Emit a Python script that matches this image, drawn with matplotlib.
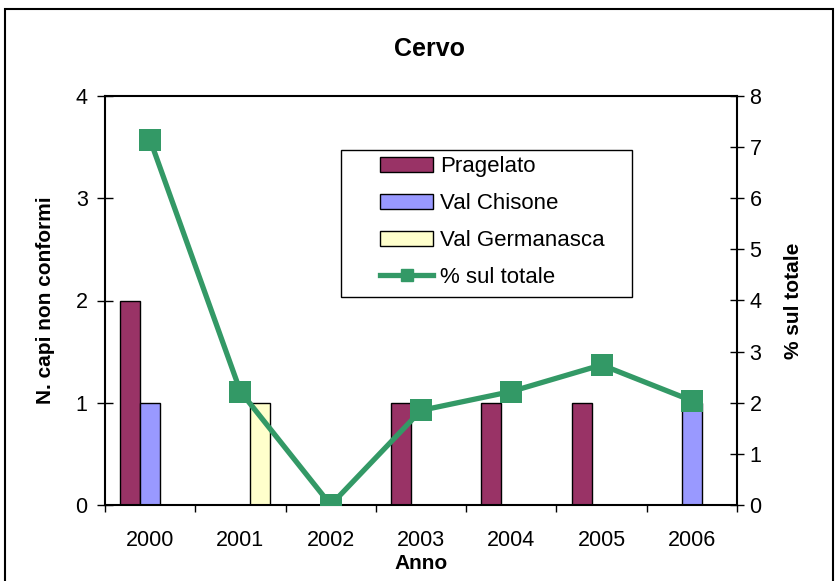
import numpy as np
import matplotlib.pyplot as plt
from matplotlib.patches import Rectangle, Patch
from matplotlib.lines import Line2D

plt.rcParams['font.family'] = ['Liberation Sans', 'DejaVu Sans']

# data
anni = ['2000', '2001', '2002', '2003', '2004', '2005', '2006']
pragelato = [2, 0, 0, 1, 1, 1, 0]
val_chisone = [1, 0, 0, 0, 0, 0, 1]
val_germanasca = [0, 1, 0, 0, 0, 0, 0]
perc_totale = [7.14, 2.22, 0.0, 1.85, 2.22, 2.74, 2.04]

c_prag = '#993366'
c_chis = '#9999FF'
c_germ = '#FFFFCC'
c_line = '#339966'

W, H = 838, 581
fig = plt.figure(figsize=(W / 100, H / 100), dpi=100)
ax = fig.add_axes([105 / W, 1 - 505 / H, 632 / W, 409 / H])

x = np.arange(len(anni))
w = 0.222
ax.bar(x - w, pragelato, w, color=c_prag, edgecolor='black', linewidth=1)
ax.bar(x, val_chisone, w, color=c_chis, edgecolor='black', linewidth=1)
ax.bar(x + w, val_germanasca, w, color=c_germ, edgecolor='black', linewidth=1)

ax.set_xlim(-0.5, len(anni) - 0.5)
ax.set_ylim(0, 4)
ax.set_yticks([0, 1, 2, 3, 4])
ax.set_xticks(x)
ax.set_xticklabels(anni)
ax.set_xticks(np.arange(-0.5, len(anni)), minor=True)
ax.tick_params(axis='x', which='major', length=0, labelsize=15.5, pad=18)
ax.tick_params(axis='x', which='minor', direction='out', length=5, width=1)
ax.tick_params(axis='y', direction='inout', length=11, width=1, labelsize=15.5, pad=7)
ax.spines['right'].set_visible(False)
for s in ['left', 'bottom', 'top']:
    ax.spines[s].set_linewidth(1.5)

ax.set_xlabel('Anno', fontsize=15, fontweight='bold', labelpad=2)
ax.set_ylabel('N. capi non conformi', fontsize=15, fontweight='bold', labelpad=15)

ax2 = ax.twinx()
ax2.plot(x, perc_totale, color=c_line, linewidth=3.8, marker='s', markersize=16,
         markeredgewidth=0, zorder=5)
ax2.set_ylim(0, 8)
ax2.set_yticks(range(0, 9))
ax2.tick_params(axis='y', direction='inout', length=10, width=1, labelsize=15.5, pad=4)
for s in ['top', 'left', 'bottom']:
    ax2.spines[s].set_visible(False)
ax2.spines['right'].set_linewidth(1.5)
ax2.set_ylabel('% sul totale', fontsize=15, fontweight='bold', labelpad=16)

fig.text(429 / W, 1 - 49 / H, 'Cervo', ha='center', va='center',
         fontsize=18, fontweight='bold')

# legend: box drawn separately, entries placed inside
handles = [
    Patch(facecolor=c_prag, edgecolor='black'),
    Patch(facecolor=c_chis, edgecolor='black'),
    Patch(facecolor=c_germ, edgecolor='black'),
    Line2D([], [], color=c_line, linewidth=3.8, marker='s', markersize=9),
]
labels = ['Pragelato', 'Val Chisone', 'Val Germanasca', '% sul totale']
fig.patches.append(Rectangle((341 / W, 1 - 297 / H), 291 / W, 147 / H,
                             transform=fig.transFigure, facecolor='white',
                             edgecolor='black', linewidth=1, zorder=9))
leg = fig.legend(handles, labels, loc='center left',
                 bbox_to_anchor=(380 / W, 1 - 222 / H),
                 fontsize=16, frameon=False,
                 handlelength=2.4, handleheight=0.65, labelspacing=0.72,
                 handletextpad=0.3, borderpad=0, borderaxespad=0)
leg.set_zorder(10)

fig.patches.append(Rectangle((5 / W, -0.05), 828 / W, 1.05 - 9 / H,
                             transform=fig.transFigure, fill=False,
                             edgecolor='black', linewidth=1.5))

fig.savefig('out.png', dpi=100)
